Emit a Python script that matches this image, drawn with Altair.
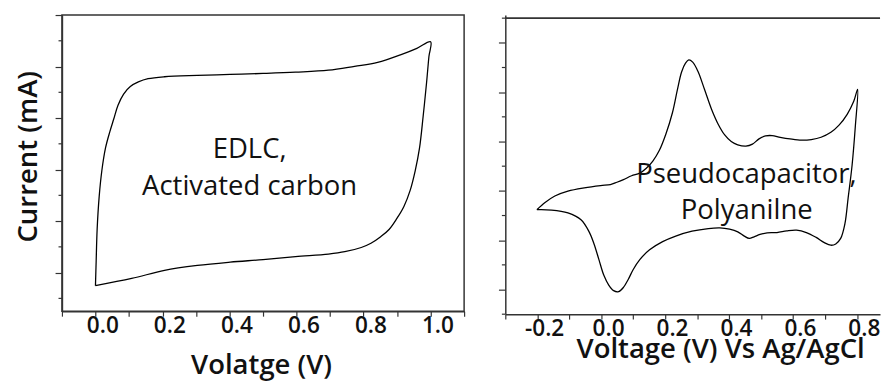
import altair as alt
import pandas as pd

# ---------------- data ----------------
# Left panel: EDLC (activated carbon) cyclic voltammogram
edlc_v = [0.000, 0.108, 0.206, 0.304, 0.402, 0.500, 0.597, 0.695, 0.744, 0.793, 0.822,
          0.851, 0.876, 0.900, 0.920, 0.939, 0.954, 0.967, 0.978, 0.988, 0.995, 1.000,
          0.959, 0.910, 0.842, 0.773, 0.695, 0.597, 0.500, 0.402, 0.304, 0.206, 0.157,
          0.128, 0.104, 0.084, 0.067, 0.055, 0.043, 0.030, 0.019, 0.011, 0.005, 0.002, 0.000]
edlc_i = [-0.253, -0.114, 0.044, 0.139, 0.203, 0.253, 0.311, 0.361, 0.406, 0.488, 0.570,
          0.697, 0.837, 1.058, 1.280, 1.597, 1.977, 2.420, 3.050, 3.690, 4.195, 4.480,
          4.354, 4.227, 4.081, 4.005, 3.929, 3.891, 3.866, 3.846, 3.828, 3.802, 3.764,
          3.701, 3.612, 3.466, 3.245, 2.991, 2.738, 2.421, 1.977, 1.470, 0.837, 0.203, -0.253]

# Right panel: pseudocapacitor (polyaniline) cyclic voltammogram
pani_v = [-0.2013, -0.1757, -0.1451, -0.1042, -0.0531, -0.0020, 0.0286, 0.0490, 0.0695, 0.0950,
          0.1206, 0.1410, 0.1614, 0.1819, 0.2023, 0.2227, 0.2381, 0.2513, 0.2636, 0.2738,
          0.2861, 0.3024, 0.3229, 0.3453, 0.3658, 0.3862, 0.4066, 0.4271, 0.4526, 0.4730,
          0.4935, 0.5139, 0.5344, 0.5599, 0.5905, 0.6263, 0.6570, 0.6876, 0.7183, 0.7438,
          0.7693, 0.7898, 0.8020,
          0.7949, 0.7847, 0.7724, 0.7622, 0.7489, 0.7336, 0.7183,
          0.6978, 0.6723, 0.6416, 0.6110, 0.5803, 0.5497, 0.5190, 0.4966, 0.4782, 0.4628,
          0.4475, 0.4271, 0.4015, 0.3709, 0.3351, 0.2840, 0.2330, 0.1921, 0.1512, 0.1206,
          0.1001, 0.0848, 0.0695, 0.0542, 0.0388, 0.0235, 0.0082, -0.0072, -0.0225, -0.0378,
          -0.0633, -0.1042, -0.1553, -0.2013]
pani_i = [-0.382, -0.236, -0.104, -0.005, 0.062, 0.108, 0.128, 0.174, 0.227, 0.306,
          0.359, 0.458, 0.604, 0.822, 1.153, 1.583, 2.046, 2.410, 2.588, 2.654,
          2.608, 2.423, 2.059, 1.649, 1.351, 1.133, 1.000, 0.934, 0.908, 0.947,
          1.053, 1.113, 1.120, 1.086, 1.053, 1.027, 1.040, 1.086, 1.186, 1.331,
          1.550, 1.814, 2.059,
          1.318, 0.524, -0.137, -0.666, -0.964, -1.076, -1.102,
          -1.049, -0.944, -0.845, -0.798, -0.812, -0.845, -0.851, -0.884, -0.931, -0.964,
          -0.917, -0.831, -0.778, -0.752, -0.765, -0.818, -0.917, -1.030, -1.195, -1.394,
          -1.593, -1.791, -1.957, -2.043, -2.023, -1.910, -1.712, -1.394, -1.077, -0.832,
          -0.587, -0.448, -0.389, -0.382]

# annotations
edlc_text = ["EDLC,", "Activated carbon"]
edlc_text_v = [0.46, 0.46]
edlc_text_i = [2.226, 1.514]
pani_text = ["Pseudocapacitor,", "Polyanilne"]
pani_text_v = [0.454, 0.455]
pani_text_i = [0.161, -0.567]

# ticks
left_xticks = [-0.1, 0.0, 0.1, 0.2, 0.3, 0.4, 0.5, 0.6, 0.7, 0.8, 0.9, 1.0, 1.1]
left_y_major = [0.0, 1.0, 2.0, 3.0, 4.0, 5.0]
left_y_minor = [-0.5, 0.5, 1.5, 2.5, 3.5, 4.5]
right_xticks = [-0.3, -0.2, -0.1, 0.0, 0.1, 0.2, 0.3, 0.4, 0.5, 0.6, 0.7, 0.8]
right_y_major = [-2.0, -1.0, 0.0, 1.0, 2.0, 3.0]
right_y_minor = [-2.5, -1.5, -0.5, 0.5, 1.5, 2.5, 3.5]
right_frame_v = [-0.3, 0.872]
right_frame_i = [-2.5, 3.5]

# ---------------- frames ----------------
edlc_df = pd.DataFrame({"v": edlc_v, "i": edlc_i, "o": list(range(len(edlc_v)))})
pani_df = pd.DataFrame({"v": pani_v, "i": pani_i, "o": list(range(len(pani_v)))})
edlc_t = pd.DataFrame({"v": edlc_text_v, "i": edlc_text_i, "t": edlc_text})
pani_t = pd.DataFrame({"v": pani_text_v, "i": pani_text_i, "t": pani_text})
left_minor_df = pd.DataFrame({"i": left_y_minor})
right_minor_df = pd.DataFrame({"i": right_y_minor})

FONT = "Open Sans"
AX = "#333333"
label_expr = ("round(datum.value*10) % 2 == 0 ? "
              "(datum.value < -0.001 ? '-' : '') + format(abs(datum.value), '.1f') : ''")

common_x = dict(labelExpr=label_expr, tickSize=5, tickColor=AX, tickWidth=1.2,
                labelFont=FONT, labelFontSize=23, labelFontWeight=600, labelColor="#111",
                labelOffset=7, labelPadding=-1, labelFlush=False, labelOverlap=False,
                titleFont=FONT, titleFontSize=28, titleFontWeight=600, titleColor="#111",
                titleBaseline="top", titleAlign="center", grid=False,
                domain=True, domainColor=AX, domainWidth=1.5)
common_y = dict(labels=False, tickSize=7, tickColor=AX, tickWidth=1.2, grid=False,
                domain=True, domainColor=AX, domainWidth=1.5)

# ---------------- left panel ----------------
lx = alt.Scale(domain=[-0.1, 1.1], nice=False, zero=False)
ly = alt.Scale(domain=[-0.75, 5.0], nice=False, zero=False)

left_x_axis = alt.Axis(orient="bottom", values=left_xticks,
                       title="Volatge (V)", titleX=203, titleY=41.5, **common_x)
left_y_axis = alt.Axis(orient="left", values=left_y_major,
                       title="Current (mA)", titleX=-20, titleY=144,
                       titleAngle=270, titleBaseline="bottom", titleAlign="center",
                       titleFont=FONT, titleFontSize=28, titleFontWeight=600,
                       titleColor="#111", **common_y)

left_line = alt.Chart(edlc_df).mark_line(color="black", strokeWidth=1.3, interpolate="catmull-rom").encode(
    x=alt.X("v:Q", scale=lx, axis=left_x_axis),
    y=alt.Y("i:Q", scale=ly, axis=left_y_axis),
    order="o:Q",
)
left_text = alt.Chart(edlc_t).mark_text(font=FONT, fontSize=28, color="#111", align="center",
                                        baseline="alphabetic").encode(
    x=alt.X("v:Q", scale=lx, axis=left_x_axis),
    y=alt.Y("i:Q", scale=ly, axis=left_y_axis),
    text="t:N",
)
left_minor = alt.Chart(left_minor_df).mark_rule(color=AX, strokeWidth=1.2, clip=False).encode(
    x=alt.value(-3.5), x2=alt.value(0),
    y=alt.Y("i:Q", scale=ly, axis=left_y_axis),
)
left = alt.layer(left_line, left_text, left_minor).properties(
    width=410, height=302, view=alt.ViewBackground(stroke=AX, strokeWidth=1.5))

# ---------------- right panel ----------------
rx = alt.Scale(domain=[-0.3, 0.872], nice=False, zero=False)
ry = alt.Scale(domain=[-2.5, 3.5635], nice=False, zero=False)

right_x_axis = alt.Axis(orient="bottom", values=right_xticks,
                        title="Voltage (V) Vs Ag/AgCl", titleX=219, titleY=22, **common_x)
right_y_axis = alt.Axis(orient="left", values=right_y_major, title=None, **common_y)

right_line = alt.Chart(pani_df).mark_line(color="black", strokeWidth=1.3, interpolate="catmull-rom",
                                          clip=True).encode(
    x=alt.X("v:Q", scale=rx, axis=right_x_axis),
    y=alt.Y("i:Q", scale=ry, axis=right_y_axis),
    order="o:Q",
)
right_text = alt.Chart(pani_t).mark_text(font=FONT, fontSize=28, color="#111", align="center",
                                         baseline="alphabetic").encode(
    x=alt.X("v:Q", scale=rx, axis=right_x_axis),
    y=alt.Y("i:Q", scale=ry, axis=right_y_axis),
    text="t:N",
)
right_minor = alt.Chart(right_minor_df).mark_rule(color=AX, strokeWidth=1.2, clip=False).encode(
    x=alt.value(-3.5), x2=alt.value(0),
    y=alt.Y("i:Q", scale=ry, axis=right_y_axis),
)
right_top_edge = alt.Chart(pani_t).mark_rule(color=AX, strokeWidth=1.5).encode(
    y=alt.datum(right_frame_i[1], type="quantitative", scale=ry, axis=right_y_axis),
    x=alt.datum(right_frame_v[0], type="quantitative", scale=rx, axis=right_x_axis),
    x2=alt.datum(right_frame_v[1]),
)
right = alt.layer(right_line, right_text, right_minor, right_top_edge).properties(
    width=382, height=305, view=alt.ViewBackground(stroke="transparent", strokeWidth=0))

chart = alt.hconcat(left, right, spacing=26).properties(
    padding={"left": 6, "top": 1.5, "right": 0, "bottom": 0},
    background="white",
).configure_view(strokeWidth=0)

chart.save("out.html", embed_options={"renderer": "svg", "actions": False})
